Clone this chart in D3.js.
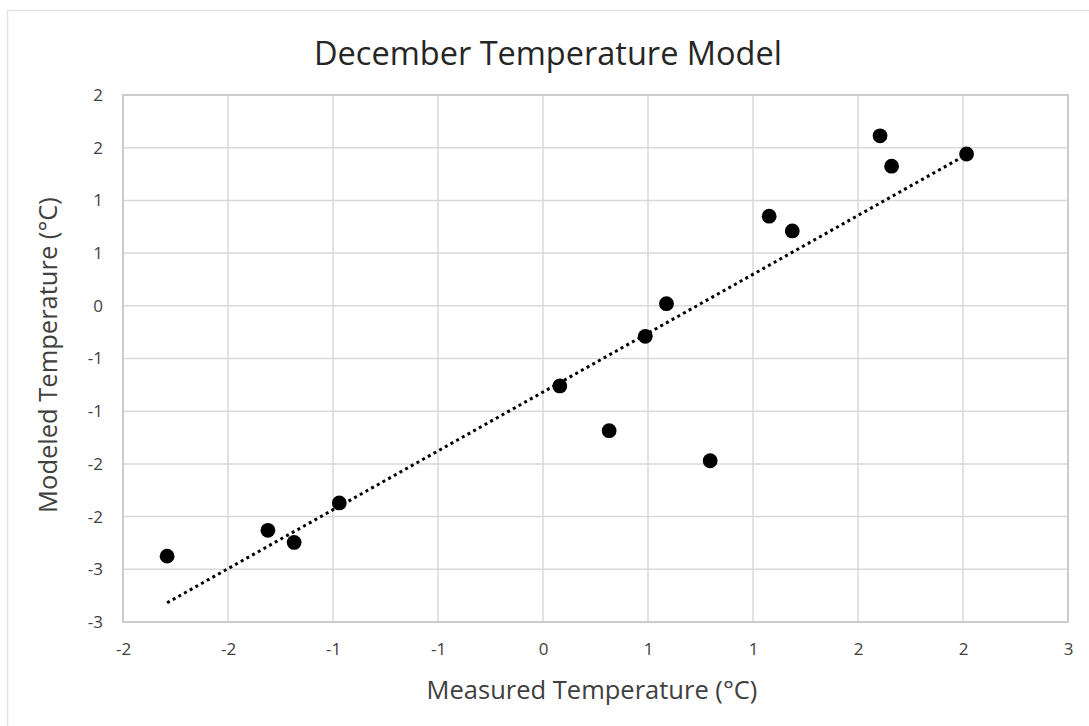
<!DOCTYPE html>
<html>
<head>
<meta charset="utf-8">
<script src="https://cdn.jsdelivr.net/npm/d3@7"></script>
<style>
  body { margin: 0; background: #fff; }
  text { font-family: "Open Sans", Lato, sans-serif; fill: #404040; }
</style>
</head>
<body>
<div id="vis"></div>
<script>
// dimensions of the frame
const FRAME_WIDTH = 1089;
const FRAME_HEIGHT = 726;

// plot area inside the frame
const MARGINS = {left: 123, right: 21, top: 95, bottom: 104};
const VIS_WIDTH = FRAME_WIDTH - MARGINS.left - MARGINS.right;
const VIS_HEIGHT = FRAME_HEIGHT - MARGINS.top - MARGINS.bottom;

// data (measured vs modeled, °C)
const measured = [-1.79, -1.31, -1.185, -0.97, 0.08, 0.315, 0.487, 0.588, 0.796, 1.077, 1.187, 1.605, 1.66, 2.017];
const modeled  = [-2.375, -2.13, -2.245, -1.87, -0.76, -1.185, -0.29, 0.02, -1.47, 0.85, 0.71, 1.613, 1.325, 1.44];

// tick values and the labels Excel shows for them (0 decimals)
const xTicks = [-2, -1.5, -1, -0.5, 0, 0.5, 1, 1.5, 2, 2.5];
const xTickLabels = ["-2", "-2", "-1", "-1", "0", "1", "1", "2", "2", "3"];
const yTicks = [-3, -2.5, -2, -1.5, -1, -0.5, 0, 0.5, 1, 1.5, 2];
const yTickLabels = ["-3", "-3", "-2", "-2", "-1", "-1", "0", "1", "1", "2", "2"];

const points = measured.map((m, i) => ({x: m, y: modeled[i]}));

const svg = d3.select("#vis")
  .append("svg")
  .attr("width", FRAME_WIDTH)
  .attr("height", FRAME_HEIGHT);

// outer chart border
svg.append("rect")
  .attr("x", 7.5).attr("y", 10.5)
  .attr("width", FRAME_WIDTH + 20).attr("height", FRAME_HEIGHT + 20)
  .attr("fill", "none")
  .attr("stroke", "#e3e3e3")
  .attr("stroke-width", 1.5);

const X_SCALE = d3.scaleLinear().domain([-2, 2.5]).range([0, VIS_WIDTH]);
const Y_SCALE = d3.scaleLinear().domain([-3, 2]).range([VIS_HEIGHT, 0]);

const plot = svg.append("g")
  .attr("transform", "translate(" + MARGINS.left + "," + MARGINS.top + ")");

// gridlines
plot.append("g")
  .selectAll("line")
  .data(xTicks)
  .enter()
  .append("line")
    .attr("x1", (d) => X_SCALE(d)).attr("x2", (d) => X_SCALE(d))
    .attr("y1", 0).attr("y2", VIS_HEIGHT)
    .attr("stroke", "#d9d9d9").attr("stroke-width", 1.5);

plot.append("g")
  .selectAll("line")
  .data(yTicks)
  .enter()
  .append("line")
    .attr("x1", 0).attr("x2", VIS_WIDTH)
    .attr("y1", (d) => Y_SCALE(d)).attr("y2", (d) => Y_SCALE(d))
    .attr("stroke", "#d9d9d9").attr("stroke-width", 1.5);

// plot area border
plot.append("rect")
  .attr("width", VIS_WIDTH).attr("height", VIS_HEIGHT)
  .attr("fill", "none")
  .attr("stroke", "#cccccc").attr("stroke-width", 2);

// axes (labels only)
const xAxis = plot.append("g")
  .attr("transform", "translate(0," + VIS_HEIGHT + ")")
  .call(d3.axisBottom(X_SCALE).tickValues(xTicks)
        .tickFormat((d, i) => xTickLabels[i]).tickSize(0).tickPadding(21));
xAxis.select(".domain").remove();
xAxis.selectAll("text").attr("font-size", "17px").attr("fill", "#404040");

const yAxis = plot.append("g")
  .call(d3.axisLeft(Y_SCALE).tickValues(yTicks)
        .tickFormat((d, i) => yTickLabels[i]).tickSize(0).tickPadding(20));
yAxis.select(".domain").remove();
yAxis.selectAll("text").attr("font-size", "17px").attr("fill", "#404040");

// linear trendline (least squares over the points)
const mx = d3.mean(measured), my = d3.mean(modeled);
const slope = d3.sum(points, (d) => (d.x - mx) * (d.y - my)) / d3.sum(points, (d) => (d.x - mx) * (d.x - mx));
const intercept = my - slope * mx;
const xExt = d3.extent(measured);
const trend = xExt.map((x) => ({x: x, y: intercept + slope * x}));

plot.append("path")
  .datum(trend)
  .attr("d", d3.line().x((d) => X_SCALE(d.x)).y((d) => Y_SCALE(d.y)))
  .attr("fill", "none")
  .attr("stroke", "#000")
  .attr("stroke-width", 3)
  .attr("stroke-dasharray", "3 3.5");

// points
plot.selectAll("circle")
  .data(points)
  .enter()
  .append("circle")
    .attr("cx", (d) => X_SCALE(d.x))
    .attr("cy", (d) => Y_SCALE(d.y))
    .attr("r", 7.4)
    .attr("fill", "#000");

// title
svg.append("text")
  .attr("x", 548).attr("y", 65)
  .attr("text-anchor", "middle")
  .attr("font-size", "32.5px")
  .style("fill", "#262626")
  .text("December Temperature Model");

// axis titles
svg.append("text")
  .attr("x", 592).attr("y", 699)
  .attr("text-anchor", "middle")
  .attr("font-size", "25.5px")
  .text("Measured Temperature (°C)");

svg.append("text")
  .attr("transform", "translate(57,355) rotate(-90)")
  .attr("text-anchor", "middle")
  .attr("font-size", "25.5px")
  .text("Modeled Temperature (°C)");
</script>
</body>
</html>
